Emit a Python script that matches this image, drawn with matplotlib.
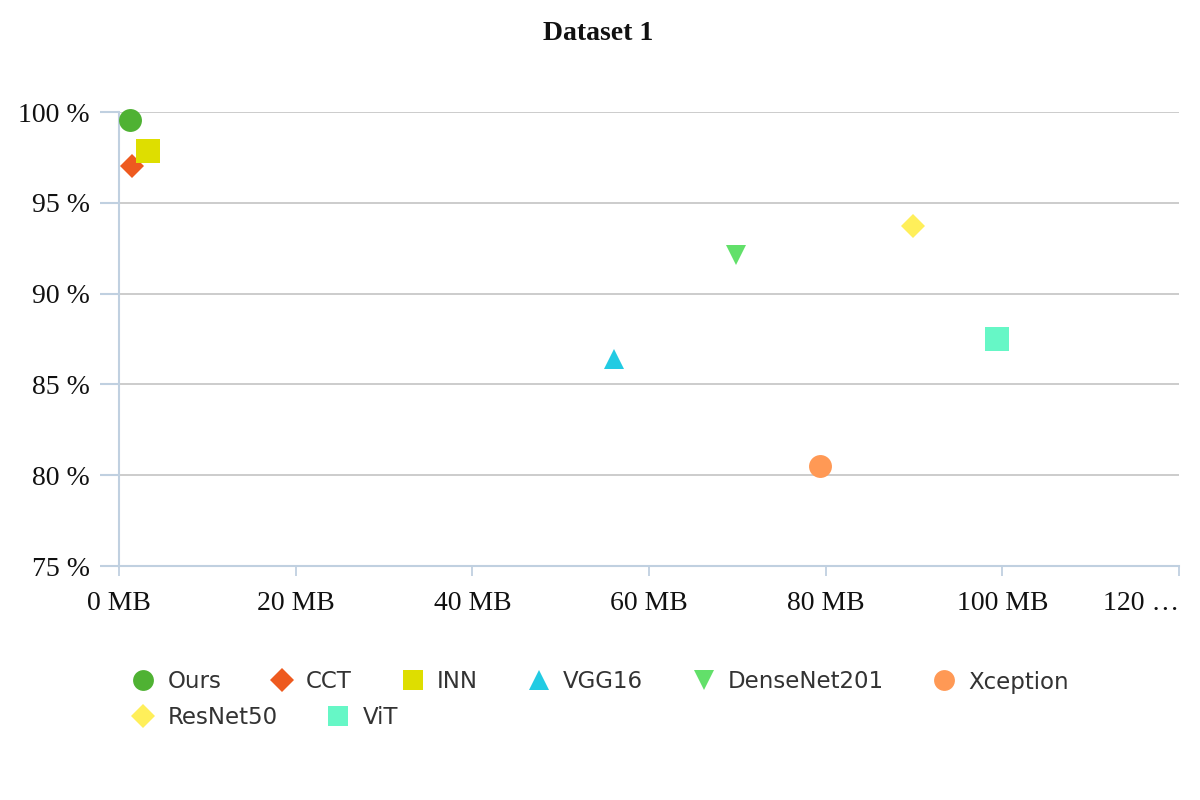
import matplotlib
matplotlib.use("Agg")
import matplotlib.pyplot as plt
import matplotlib.transforms as mtransforms
from matplotlib.lines import Line2D

models = ["Ours", "CCT", "INN", "VGG16", "DenseNet201", "Xception", "ResNet50", "ViT"]
size_mb = [1.25, 1.5, 3.3, 56.0, 69.9, 79.4, 89.9, 99.4]
accuracy = [99.55, 97.05, 97.85, 86.4, 92.1, 80.5, 93.7, 87.5]
colors = ["#4fb233", "#ee5a1f", "#dede00", "#22cbe3", "#62e06a", "#ff9955", "#ffef5a", "#66f7c6"]
markers = ["o", "D", "s", "^", "v", "o", "D", "s"]
msizes = [16.5, 12.5, 17, 15, 15, 16.5, 12.5, 17]
leg_msizes = [15, 12, 15, 15, 15, 15, 12, 15]

x_ticks = [0, 20, 40, 60, 80, 100, 120]
x_labels = ["0 MB", "20 MB", "40 MB", "60 MB", "80 MB", "100 MB", "120 …"]
y_ticks = [75, 80, 85, 90, 95, 100]
y_labels = ["75 %", "80 %", "85 %", "90 %", "95 %", "100 %"]

fig = plt.figure(figsize=(12, 8), dpi=100)
ax = fig.add_axes([119/1200, 1-566/800, (1179-119)/1200, (566-112)/800])

handles = []
for m, x, y, c, mk, ms, lms in zip(models, size_mb, accuracy, colors, markers, msizes, leg_msizes):
    ax.plot([x], [y], linestyle="none", marker=mk, markersize=ms, color=c,
            markeredgewidth=0, clip_on=False, zorder=3)
    handles.append(Line2D([], [], linestyle="none", marker=mk, markersize=lms,
                          color=c, markeredgewidth=0, label=m))

ax.set_xlim(0, 120)
ax.set_ylim(75, 100)
ax.set_xticks(x_ticks)
ax.set_xticklabels(x_labels)
ax.set_yticks(y_ticks)
ax.set_yticklabels(y_labels)

serif = ["Liberation Serif", "DejaVu Serif"]
for lab in ax.get_xticklabels() + ax.get_yticklabels():
    lab.set_fontfamily(serif)
    lab.set_fontsize(20)
    lab.set_color("#111111")

last = ax.get_xticklabels()[-1]
last.set_horizontalalignment("right")
last.set_transform(last.get_transform() + mtransforms.ScaledTranslation(-11/100, 0, fig.dpi_scale_trans))

ax.grid(axis="y", color="#c4c4c4", linewidth=1.2)
ax.set_axisbelow(True)
for s in ["top", "right"]:
    ax.spines[s].set_visible(False)
for s in ["left", "bottom"]:
    ax.spines[s].set_color("#c0d0e0")
    ax.spines[s].set_linewidth(1.5)
ax.tick_params(axis="x", length=7, width=1.3, color="#c0d0e0", pad=11)
ax.tick_params(axis="y", length=14, width=1.5, color="#c0d0e0", pad=7)

fig.text(598/1200, 1-33/800, "Dataset 1", ha="center", va="center",
         fontsize=20, fontweight="bold", family=serif, color="#111111")

leg_kw = dict(frameon=False, prop={"family": "DejaVu Sans", "size": 16.5},
              labelcolor="#333333", handletextpad=0.55, columnspacing=2.15,
              handlelength=1.0, borderaxespad=0, borderpad=0)
leg1 = fig.legend(handles=handles[:6], ncol=6, loc="center left",
                  bbox_to_anchor=(132/1200, 1-682/800), **leg_kw)
leg2 = fig.legend(handles=handles[6:], ncol=2, loc="center left",
                  bbox_to_anchor=(132/1200, 1-718/800), **leg_kw)

fig.savefig("out.png", dpi=100, facecolor="white")
